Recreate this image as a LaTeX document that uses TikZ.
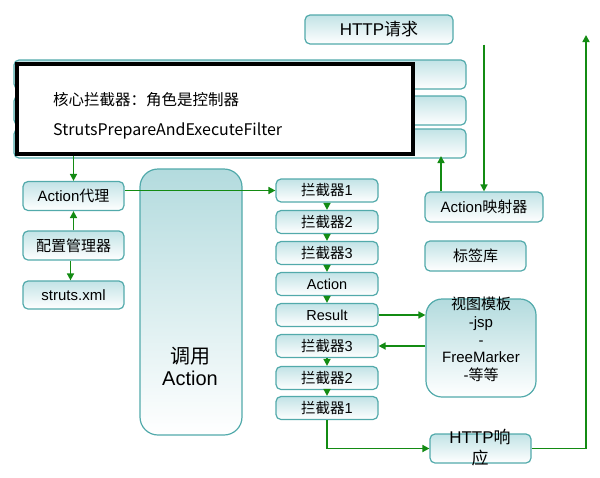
\documentclass[tikz,border=0pt]{standalone}
\usepackage{fontspec}
\setmainfont{Liberation Sans}
\newfontfamily\cjk{Noto Sans CJK SC}
\usetikzlibrary{arrows.meta,calc}
\definecolor{bd}{HTML}{52AAAB}
\definecolor{tc}{HTML}{C2E3E6}
\definecolor{tcb}{HTML}{B3DBDE}
\definecolor{gr}{HTML}{138B13}
\begin{document}
\begin{tikzpicture}[x=1pt,y=1pt,
  box/.style={draw=bd, line width=1.2pt, rounded corners=5pt, top color=tc, bottom color=white, inner sep=0pt, font=\fontsize{15}{17}\selectfont},
  ibox/.style={box, minimum width=102pt, minimum height=23pt, font=\fontsize{14.5}{16}\selectfont},
  lbox/.style={box, minimum width=101pt, minimum height=29pt},
  bigbox/.style={box, top color=tcb, bottom color=white},
  arr/.style={draw=gr, line width=1.6pt, -{Triangle[width=7pt,length=7pt]}},
  txt/.style={inner sep=0pt, align=center}
]
\useasboundingbox (0,0) rectangle (600,-477);
\fill[white] (0,0) rectangle (600,-477);

% top request
\node[box, minimum width=148pt, minimum height=29pt, font=\fontsize{17}{19}\selectfont] (hq) at (379,-29.5) {HTTP{\cjk 请求}};

% stacked filter boxes
\node[box, minimum width=452pt, minimum height=29pt] (s1) at (240,-74.5) {};
\node[box, minimum width=452pt, minimum height=29pt] (s2) at (240,-110.5) {};
\node[box, minimum width=452pt, minimum height=29pt] (s3) at (240,-143.5) {};

% core filter
\node[draw=black, line width=4pt, fill=white, minimum width=396pt, minimum height=90pt, inner sep=0pt] (core) at (215,-109) {};
\node[txt, anchor=west, font=\cjk\fontsize{15.5}{17}\selectfont] (ct1) at (53,-100) {核心拦截器：角色是控制器};
\node[txt, anchor=west, font=\cjk\fontsize{16}{18}\selectfont] (ct2) at (53,-131) {StrutsPrepareAndExecuteFilter};

% left column
\node[lbox] (ap) at (73.5,-196) {Action{\cjk 代理}};
\node[lbox] (cm) at (73.5,-245.5) {{\cjk 配置管理器}};
\node[lbox, minimum height=28pt] (sx) at (73.5,-295) {struts.xml};

% invoke action
\node[bigbox, minimum width=102pt, minimum height=266pt, rounded corners=18pt] (call) at (191,-302) {};
\node[txt, font=\fontsize{20}{22}\selectfont] (callt) at (190,-366) {{\cjk 调用}\\Action};

% interceptor column
\node[ibox] (i1) at (327,-190.5) {{\cjk 拦截器}1};
\node[ibox] (i2) at (327,-222) {{\cjk 拦截器}2};
\node[ibox] (i3) at (327,-253) {{\cjk 拦截器}3};
\node[ibox] (act) at (327,-284) {Action};
\node[ibox] (res) at (327,-315) {Result};
\node[ibox] (j3) at (327,-346) {{\cjk 拦截器}3};
\node[ibox] (j2) at (327,-378) {{\cjk 拦截器}2};
\node[ibox] (j1) at (327,-408) {{\cjk 拦截器}1};

% right column
\node[box, minimum width=118pt, minimum height=30pt] (am) at (484,-207) {Action{\cjk 映射器}};
\node[box, minimum width=101pt, minimum height=30pt] (tl) at (475.5,-256) {{\cjk 标签库}};
\node[bigbox, minimum width=110pt, minimum height=98pt, rounded corners=16pt] (vt) at (481,-348) {};
\node[txt, font=\fontsize{15}{17.7}\selectfont] (vtt) at (481,-339.5) {{\cjk 视图模板}\\-jsp\\-\\FreeMarker\\-{\cjk 等等}};
\node[box, minimum width=101pt, minimum height=29pt] (hr) at (480.5,-448.5) {};
\node[txt, font=\fontsize{17}{21}\selectfont] (hrt) at (480,-447.5) {HTTP{\cjk 响}\\{\cjk 应}};
\coordinate (top) at (586,-35);

% connectors
\draw[arr] (ap.north |- core.south) -- (ap.north);
\draw[arr] (cm.north) -- (ap.south);
\draw[arr] ([xshift=-3pt]cm.south) -- ([xshift=-3pt]sx.north);
\draw[arr] (ap.east |- i1.west) -- (i1.west);
\draw[arr] (i1) -- (i2);
\draw[arr] (i2) -- (i3);
\draw[arr] (i3) -- (act);
\draw[arr] (act) -- (res);
\draw[arr] (j3) -- (j2);
\draw[arr] (j2) -- (j1);
\draw[arr] (res.east) -- (res.east -| vt.west);
\draw[arr] (j3.east -| vt.west) -- (j3.east);
\draw[arr] (j1.south) |- (hr.west);
\draw[arr] (hr.east) -| (top);
\draw[arr] (hq.south -| am.north) -- (am.north);
\draw[arr] ([xshift=-43pt]am.north) -- ([xshift=-43pt]am.north |- core.south);
\end{tikzpicture}
\end{document}
